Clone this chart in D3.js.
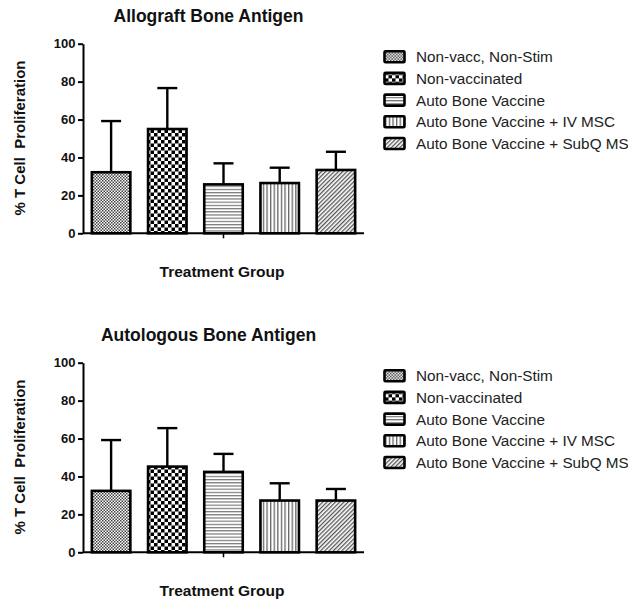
<!DOCTYPE html>
<html>
<head>
<meta charset="utf-8">
<script src="https://cdn.jsdelivr.net/npm/d3@7"></script>
<style>
  html, body { margin: 0; padding: 0; background: #fff; }
  svg { display: block; }
</style>
</head>
<body>
<div id="chart"></div>
<script>
// ---- data ----
const groups = ["Non-vacc, Non-Stim", "Non-vaccinated", "Auto Bone Vaccine", "Auto Bone Vaccine + IV MSC", "Auto Bone Vaccine + SubQ MSC"];
const allograftMeans = [32.2, 55.0, 25.8, 26.5, 33.4];
const allograftErrors = [27.0, 21.6, 11.1, 8.1, 9.6];
const autologousMeans = [32.4, 45.2, 42.4, 27.3, 27.3];
const autologousErrors = [26.8, 20.3, 9.5, 9.1, 6.1];
const yTicks = [0, 20, 40, 60, 80, 100];
const panelTitles = ["Allograft Bone Antigen", "Autologous Bone Antigen"];
const yAxisTitle = "% T Cell  Proliferation";
const xAxisTitle = "Treatment Group";

const W = 628, H = 600;
const svg = d3.select("#chart").append("svg").attr("width", W).attr("height", H);

// ---- patterns ----
const defs = svg.append("defs");
const patIds = ["p0", "p1", "p2", "p3", "p4"];
{
  const p = defs.append("pattern").attr("id", "p0").attr("patternUnits", "userSpaceOnUse").attr("width", 3).attr("height", 3);
  p.append("rect").attr("width", 3).attr("height", 3).attr("fill", "#fff");
  p.append("rect").attr("width", 1.5).attr("height", 1.5).attr("fill", "#444");
  p.append("rect").attr("x", 1.5).attr("y", 1.5).attr("width", 1.5).attr("height", 1.5).attr("fill", "#444");
}
{
  const p = defs.append("pattern").attr("id", "p1").attr("patternUnits", "userSpaceOnUse").attr("width", 7).attr("height", 7);
  p.append("rect").attr("width", 7).attr("height", 7).attr("fill", "#fff");
  p.append("rect").attr("width", 3.5).attr("height", 3.5).attr("fill", "#000");
  p.append("rect").attr("x", 3.5).attr("y", 3.5).attr("width", 3.5).attr("height", 3.5).attr("fill", "#000");
}
{
  const p = defs.append("pattern").attr("id", "p2").attr("patternUnits", "userSpaceOnUse").attr("width", 4).attr("height", 3.2);
  p.append("rect").attr("width", 4).attr("height", 3.2).attr("fill", "#fff");
  p.append("rect").attr("y", 0).attr("width", 4).attr("height", 1.2).attr("fill", "#777");
}
{
  const p = defs.append("pattern").attr("id", "p3").attr("patternUnits", "userSpaceOnUse").attr("width", 3.6).attr("height", 4);
  p.append("rect").attr("width", 3.6).attr("height", 4).attr("fill", "#fff");
  p.append("rect").attr("x", 0).attr("width", 1.3).attr("height", 4).attr("fill", "#666");
}
{
  const p = defs.append("pattern").attr("id", "p4").attr("patternUnits", "userSpaceOnUse").attr("width", 3).attr("height", 3)
    .attr("patternTransform", "rotate(45)");
  p.append("rect").attr("width", 3).attr("height", 3).attr("fill", "#fff");
  p.append("rect").attr("x", 0).attr("width", 1.3).attr("height", 3).attr("fill", "#555");
}

const sansB = "'Liberation Sans', Arial, sans-serif";

function drawPanel(offsetY, title, means, errors) {
  const g = svg.append("g").attr("transform", `translate(0,${offsetY})`);
  const y = d3.scaleLinear().domain([0, 100]).range([233.3, 43.7]);
  const x = d3.scaleBand().domain(groups).range([83, 364]).paddingInner(0.315).paddingOuter(0.1575);

  g.append("text").attr("x", 208.5).attr("y", 22)
    .attr("text-anchor", "middle").attr("font-family", sansB).attr("font-weight", "bold")
    .attr("font-size", 17.5).attr("fill", "#111").text(title);

  g.selectAll("rect.bar").data(groups).enter().append("rect")
    .attr("class", "bar")
    .attr("x", d => x(d))
    .attr("y", (d, i) => y(means[i]))
    .attr("width", x.bandwidth())
    .attr("height", (d, i) => y(0) - y(means[i]))
    .attr("fill", (d, i) => `url(#${patIds[i]})`)
    .attr("stroke", "#000").attr("stroke-width", 2.6);

  const eb = g.selectAll("g.err").data(groups).enter().append("g").attr("class", "err");
  eb.append("line")
    .attr("x1", d => x(d) + x.bandwidth() / 2).attr("x2", d => x(d) + x.bandwidth() / 2)
    .attr("y1", (d, i) => y(means[i])).attr("y2", (d, i) => y(means[i] + errors[i]))
    .attr("stroke", "#000").attr("stroke-width", 2.4);
  eb.append("line")
    .attr("x1", d => x(d) + x.bandwidth() / 2 - 10).attr("x2", d => x(d) + x.bandwidth() / 2 + 10)
    .attr("y1", (d, i) => y(means[i] + errors[i])).attr("y2", (d, i) => y(means[i] + errors[i]))
    .attr("stroke", "#000").attr("stroke-width", 2.4);

  const ya = g.append("g").attr("transform", "translate(83,0)")
    .call(d3.axisLeft(y).tickValues(yTicks).tickSize(5).tickSizeOuter(0).tickFormat(d3.format("d")));
  ya.select(".domain").attr("stroke", "#000").attr("stroke-width", 2);
  ya.selectAll(".tick line").attr("stroke", "#000").attr("stroke-width", 2);
  ya.selectAll(".tick text").attr("font-family", sansB).attr("font-weight", "bold")
    .attr("font-size", 13).attr("fill", "#111").attr("x", -7.5);

  const xa = g.append("g").attr("transform", `translate(0,${y(0)})`);
  xa.append("line").attr("x1", 83).attr("x2", 364).attr("y1", 0).attr("y2", 0)
    .attr("stroke", "#000").attr("stroke-width", 2);
  const mid = x(groups[2]) + x.bandwidth() / 2;
  xa.append("line").attr("x1", mid).attr("x2", mid).attr("y1", 0).attr("y2", 5)
    .attr("stroke", "#000").attr("stroke-width", 1.5);

  g.append("text").attr("transform", "translate(25,138) rotate(-90)")
    .attr("text-anchor", "middle").attr("font-family", sansB).attr("font-weight", "bold")
    .attr("font-size", 15).attr("fill", "#111").attr("xml:space", "preserve").style("white-space", "pre").text(yAxisTitle);
  g.append("text").attr("x", 222).attr("y", 277)
    .attr("text-anchor", "middle").attr("font-family", sansB).attr("font-weight", "bold")
    .attr("font-size", 15.5).attr("fill", "#111").text(xAxisTitle);

  const lg = g.selectAll("g.leg").data(groups).enter().append("g").attr("class", "leg")
    .attr("transform", (d, i) => `translate(0,${56.7 + i * 21.7})`);
  lg.append("rect").attr("x", 384.5).attr("y", -5.5).attr("width", 20).attr("height", 11)
    .attr("fill", (d, i) => `url(#${patIds[i]})`).attr("stroke", "#000").attr("stroke-width", 2.6).attr("rx", 1);
  lg.append("text").attr("x", 416).attr("y", 0).attr("dy", "0.36em")
    .attr("font-family", sansB).attr("font-size", 15.3).attr("fill", "#222").text(d => d);
}

drawPanel(0, panelTitles[0], allograftMeans, allograftErrors);
drawPanel(319, panelTitles[1], autologousMeans, autologousErrors);
</script>
</body>
</html>
